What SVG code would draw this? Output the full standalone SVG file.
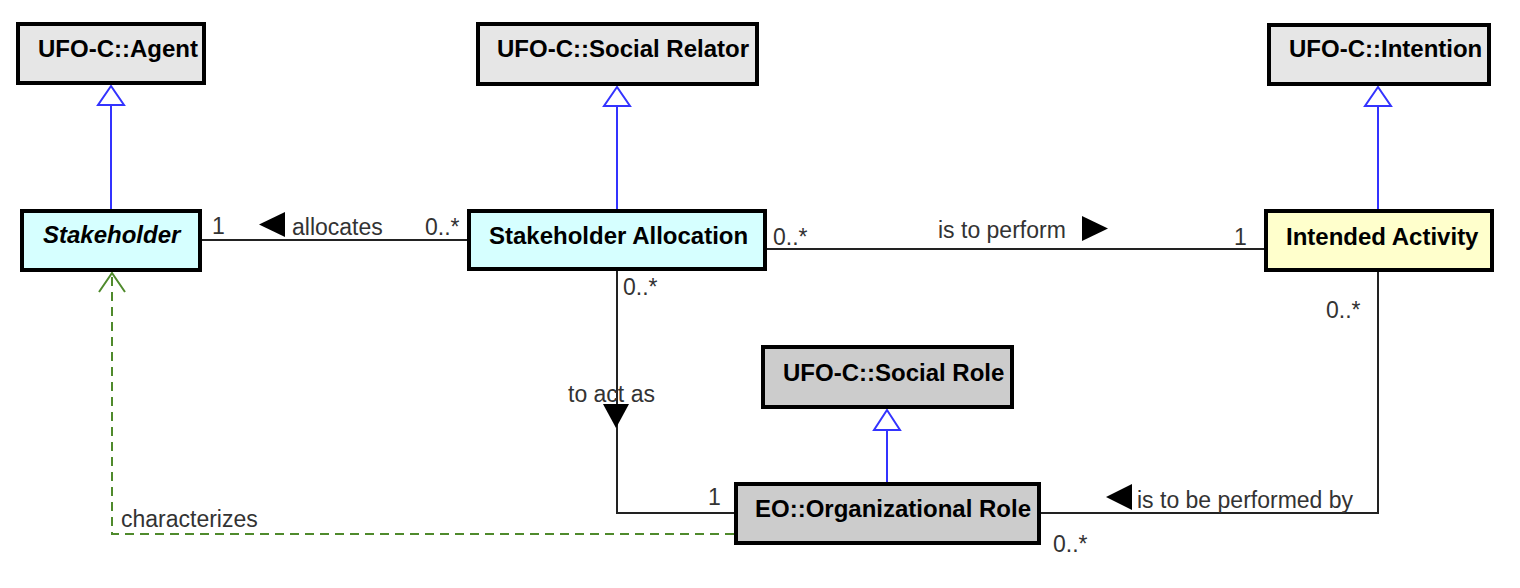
<svg xmlns="http://www.w3.org/2000/svg" width="1520" height="588" viewBox="0 0 1520 588">
<style>
.box{stroke:#000;stroke-width:4}
.gray{fill:#e6e6e6}
.dgray{fill:#cccccc}
.cyan{fill:#d6ffff}
.yellow{fill:#ffffcc}
.name{font-family:"Liberation Sans",Arial,sans-serif;font-size:24px;font-weight:bold;fill:#000}
.lbl{font-family:"Liberation Sans",Arial,sans-serif;font-size:23px;fill:#333}
.gen{stroke:#3333ff;stroke-width:2;fill:none}
.genhead{stroke:#3333ff;stroke-width:2;fill:#fff}
.assoc{stroke:#222;stroke-width:2;fill:none}
.dep{stroke:#4f8a2c;stroke-width:2;fill:none;stroke-dasharray:9 6}
.tri{fill:#000}
</style>
<g id="connectors">
  <!-- generalizations -->
  <line class="gen" x1="111" y1="209" x2="111" y2="105"/>
  <polygon class="genhead" points="111,86 98,105 124,105"/>
  <line class="gen" x1="617" y1="209" x2="617" y2="106"/>
  <polygon class="genhead" points="617,87 604,106 630,106"/>
  <line class="gen" x1="1378" y1="209" x2="1378" y2="106"/>
  <polygon class="genhead" points="1378,87 1365,106 1391,106"/>
  <line class="gen" x1="887" y1="482" x2="887" y2="430"/>
  <polygon class="genhead" points="887,410 874,430 900,430"/>
  <!-- allocates -->
  <line class="assoc" x1="202" y1="240" x2="467" y2="240"/>
  <text class="lbl" x="212" y="234">1</text>
  <polygon class="tri" points="259,224.5 285,212 285,237"/>
  <text class="lbl" x="292" y="235">allocates</text>
  <text class="lbl" x="425" y="235">0..*</text>
  <!-- is to perform -->
  <line class="assoc" x1="767" y1="249" x2="1264" y2="249"/>
  <text class="lbl" x="773" y="245">0..*</text>
  <text class="lbl" x="938" y="238">is to perform</text>
  <polygon class="tri" points="1082,216 1108,228.5 1082,241"/>
  <text class="lbl" x="1234" y="245">1</text>
  <!-- to act as -->
  <polyline class="assoc" points="617,271 617,513 734,513"/>
  <text class="lbl" x="623" y="295">0..*</text>
  <text class="lbl" x="568" y="402">to act as</text>
  <polygon class="tri" points="603,404 629,404 616,428"/>
  <text class="lbl" x="708" y="505">1</text>
  <!-- is to be performed by -->
  <polyline class="assoc" points="1378,272 1378,513 1041,513"/>
  <text class="lbl" x="1326" y="318">0..*</text>
  <polygon class="tri" points="1106,497 1132,484 1132,510"/>
  <text class="lbl" x="1137" y="508">is to be performed by</text>
  <text class="lbl" x="1053" y="552">0..*</text>
  <!-- characterizes -->
  <polyline class="dep" points="734,534 112,534 112,274"/>
  <polyline class="dep" style="stroke-dasharray:none" points="99,292 112,273 125,292"/>
  <text class="lbl" x="121" y="527">characterizes</text>
</g>
<g id="agent">
  <rect class="box gray" x="18" y="24" width="186" height="59"/>
  <text class="name" x="38" y="57">UFO-C::Agent</text>
</g>
<g id="social-relator">
  <rect class="box gray" x="478" y="24" width="279" height="60"/>
  <text class="name" x="497" y="57">UFO-C::Social Relator</text>
</g>
<g id="intention">
  <rect class="box gray" x="1269" y="25" width="220" height="59"/>
  <text class="name" x="1289" y="57">UFO-C::Intention</text>
</g>
<g id="stakeholder">
  <rect class="box cyan" x="22" y="211" width="178" height="59"/>
  <text class="name" x="43" y="243" font-style="italic">Stakeholder</text>
</g>
<g id="stakeholder-allocation">
  <rect class="box cyan" x="469" y="211" width="296" height="58"/>
  <text class="name" x="489" y="244">Stakeholder Allocation</text>
</g>
<g id="intended-activity">
  <rect class="box yellow" x="1266" y="211" width="226" height="59"/>
  <text class="name" x="1286" y="245">Intended Activity</text>
</g>
<g id="social-role">
  <rect class="box dgray" x="763" y="347" width="249" height="60"/>
  <text class="name" x="783" y="381">UFO-C::Social Role</text>
</g>
<g id="organizational-role">
  <rect class="box dgray" x="736" y="484" width="303" height="59"/>
  <text class="name" x="755" y="517">EO::Organizational Role</text>
</g>
</svg>
